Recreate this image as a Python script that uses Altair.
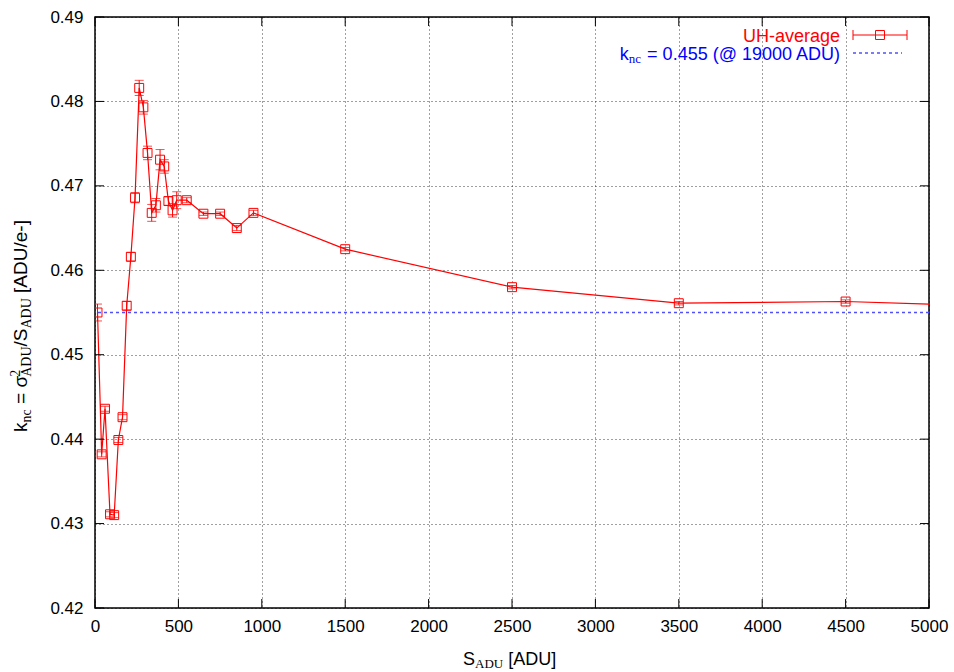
import altair as alt
import pandas as pd

# ---------------- data ----------------
s_adu = [15, 40, 60, 90, 115, 140, 165, 190, 215, 240, 265, 290, 315, 340, 365,
         390, 415, 440, 465, 490, 550, 650, 750, 850, 950, 1500, 2500, 3500, 4500, 5500]
k_nc = [0.4550, 0.4382, 0.4436, 0.4311, 0.4310, 0.4399, 0.4426, 0.4558, 0.4616, 0.4686,
        0.4816, 0.4793, 0.4739, 0.4668, 0.4677, 0.4731, 0.4723, 0.4682, 0.4671, 0.4683,
        0.4683, 0.4667, 0.4667, 0.4650, 0.4668, 0.4625, 0.4580, 0.4561, 0.4563, 0.4557]
k_err = [0.0010, 0.0003, 0.0003, 0.0003, 0.0003, 0.0003, 0.0003, 0.0005, 0.0005, 0.0006,
         0.0009, 0.0008, 0.0008, 0.0010, 0.0008, 0.0012, 0.0008, 0.0005, 0.0008, 0.0010,
         0.0003, 0.0002, 0.0002, 0.0003, 0.0003, 0.0002, 0.0002, 0.0002, 0.0002, 0.0002]
k_ref = [0.455]
x_ticks = [0, 500, 1000, 1500, 2000, 2500, 3000, 3500, 4000, 4500, 5000]
y_ticks = [0.42, 0.43, 0.44, 0.45, 0.46, 0.47, 0.48, 0.49]

series_label = "UH-average"
ref_label = "= 0.455 (@ 19000 ADU)"

# ---------------- styling ----------------
W, H = 834, 591
RED = "#ff0000"
BLUE = "#5050ff"
BLUE_TXT = "#0000ff"
SANS = "Liberation Sans"
SERIF = "Liberation Serif"
FS = 18
SUB = 13
YFS = 19
YSUB = 14

ARIAL = {' ': 278, '=': 584, 'σ': 570, '/': 278, 'S': 667, '[': 278, ']': 278, 'A': 667,
         'D': 722, 'U': 722, 'e': 556, '-': 333, 'k': 500, '.': 278, '(': 333, ')': 333,
         '@': 1015, 'H': 722, 'a': 556, 'v': 500, 'r': 333, 'g': 556}
TIMES = {'A': 722, 'D': 722, 'U': 722, 'n': 500, 'c': 444, '2': 500}


def width(s, font, size):
    table = ARIAL if font == SANS else TIMES
    return sum(table.get(ch, 556) for ch in s) * size / 1000.0


def txt(s, x, y, size=FS, font=SANS, color="#000", align="left", angle=0):
    return alt.Chart(pd.DataFrame({"t": [s]})).mark_text(
        font=font, fontSize=size, color=color, align=align,
        baseline="alphabetic", angle=angle
    ).encode(x=alt.value(x), y=alt.value(y), text="t:N")


df = pd.DataFrame({"s": s_adu, "k": k_nc, "e": k_err})
df["lo"] = df["k"] - df["e"]
df["hi"] = df["k"] + df["e"]

xs = alt.Scale(domain=[0, 5000], nice=False, zero=False)
ys = alt.Scale(domain=[0.42, 0.49], nice=False, zero=False)

common_axis = dict(grid=True, gridColor="#000", gridDash=[1, 3], gridOpacity=0.75,
                   gridWidth=1, tickSize=0, domain=False, labelFont=SANS,
                   labelFontSize=17, labelColor="#000", title=None, labelOverlap=False)
xaxis = alt.Axis(values=x_ticks, format="d", labelPadding=10, labelFlush=False, **common_axis)
yaxis = alt.Axis(values=y_ticks, format=".2f", labelPadding=12, **common_axis)

base = alt.Chart(df).encode(
    x=alt.X("s:Q", scale=xs, axis=xaxis),
    y=alt.Y("k:Q", scale=ys, axis=yaxis),
)

ref_line = alt.Chart(pd.DataFrame({"r": k_ref})).mark_rule(
    color=BLUE, strokeDash=[3, 3], strokeWidth=1.3
).encode(y=alt.Y("r:Q", scale=ys))

line = base.mark_line(color=RED, strokeWidth=1.2, clip=True)
pts = base.mark_point(shape="square", filled=False, size=80, color=RED,
                      strokeWidth=1, opacity=1, clip=True)
err = alt.Chart(df).mark_rule(color=RED, strokeWidth=1, clip=True).encode(
    x=alt.X("s:Q", scale=xs), y=alt.Y("lo:Q", scale=ys), y2="hi:Q")
caps = alt.Chart(df).transform_fold(["lo", "hi"], as_=["w", "v"]).mark_tick(
    orient="horizontal", size=9, thickness=1, color=RED, clip=True
).encode(x=alt.X("s:Q", scale=xs), y=alt.Y("v:Q", scale=ys))

# inward border ticks
xt = pd.DataFrame({"tx": x_ticks})
yt = pd.DataFrame({"ty": y_ticks})
TL = 9
tick_layers = [
    alt.Chart(xt).mark_rule(color="#000", strokeWidth=1).encode(
        x=alt.X("tx:Q", scale=xs), y=alt.value(H), y2=alt.value(H - TL)),
    alt.Chart(xt).mark_rule(color="#000", strokeWidth=1).encode(
        x=alt.X("tx:Q", scale=xs), y=alt.value(0), y2=alt.value(TL)),
    alt.Chart(yt).mark_rule(color="#000", strokeWidth=1).encode(
        y=alt.Y("ty:Q", scale=ys), x=alt.value(0), x2=alt.value(TL)),
    alt.Chart(yt).mark_rule(color="#000", strokeWidth=1).encode(
        y=alt.Y("ty:Q", scale=ys), x=alt.value(W), x2=alt.value(W - TL)),
]

# legend
one = pd.DataFrame({"a": [0]})
leg = [
    txt(series_label, 745, 25, color=RED, align="right"),
    alt.Chart(one).mark_rule(color=RED, strokeWidth=1.2).encode(
        x=alt.value(758), x2=alt.value(812), y=alt.value(18)),
    alt.Chart(one).mark_rule(color=RED, strokeWidth=1).encode(
        x=alt.value(758), y=alt.value(13), y2=alt.value(23)),
    alt.Chart(one).mark_rule(color=RED, strokeWidth=1).encode(
        x=alt.value(812), y=alt.value(13), y2=alt.value(23)),
    alt.Chart(one).mark_point(shape="square", filled=False, size=80, color=RED,
                              strokeWidth=1, opacity=1).encode(
        x=alt.value(785), y=alt.value(18)),
    alt.Chart(one).mark_rule(color=BLUE, strokeWidth=1.3, strokeDash=[3, 3]).encode(
        x=alt.value(758), x2=alt.value(807), y=alt.value(36)),
]
x_end = 745
w_main = width(" " + ref_label, SANS, FS)
leg.append(txt(ref_label, x_end, 43, color=BLUE_TXT, align="right"))
x_nc = x_end - w_main
leg.append(txt("nc", x_nc, 46, size=SUB, font=SERIF, color=BLUE_TXT, align="right"))
x_k = x_nc - width("nc", SERIF, SUB)
leg.append(txt("k", x_k, 43, color=BLUE_TXT, align="right"))

# x title: S_ADU [ADU]
xt_layers = []
cx = 368
xt_layers.append(txt("S", cx, 648))
cx += width("S", SANS, FS)
xt_layers.append(txt("ADU", cx, 651, size=SUB, font=SERIF))
cx += width("ADU", SERIF, SUB) + width(" ", SANS, FS)
xt_layers.append(txt("[ADU]", cx, 648))

# y title: k_nc = sigma^2_ADU / S_ADU [ADU/e-]   (rotated)
bx = -68
cy = 415
yt_layers = []
yt_layers.append(txt("k", bx, cy, size=YFS, angle=270))
cy -= width("k", SANS, YFS)
yt_layers.append(txt("nc", bx + 4, cy, size=YSUB, font=SERIF, angle=270))
cy -= width("nc", SERIF, YSUB) + width(" ", SANS, YFS)
yt_layers.append(txt("=", bx, cy, size=YFS, angle=270))
cy -= width("= ", SANS, YFS)
yt_layers.append(txt("σ", bx, cy, size=YFS, angle=270))
cy -= width("σ", SANS, YFS)
yt_layers.append(txt("2", bx - 7, cy, size=YSUB, font=SERIF, angle=270))
yt_layers.append(txt("ADU", bx + 4, cy, size=YSUB, font=SERIF, angle=270))
cy -= width("ADU", SERIF, YSUB)
yt_layers.append(txt("/S", bx, cy, size=YFS, angle=270))
cy -= width("/S", SANS, YFS)
yt_layers.append(txt("ADU", bx + 4, cy, size=YSUB, font=SERIF, angle=270))
cy -= width("ADU", SERIF, YSUB) + width(" ", SANS, YFS)
yt_layers.append(txt("[ADU/e-]", bx, cy, size=YFS, angle=270))

chart = alt.layer(
    base.mark_point(opacity=0),
    ref_line, line, err, caps, pts,
    *tick_layers, *leg, *xt_layers, *yt_layers
).properties(
    width=W, height=H,
    autosize=alt.AutoSizeParams(type="none"),
    padding={"left": 95, "top": 17, "right": 25, "bottom": 64},
    background="white",
).configure_view(stroke="#000", strokeWidth=1.5)

chart.save("out.html", embed_options={"renderer": "svg", "actions": False})
